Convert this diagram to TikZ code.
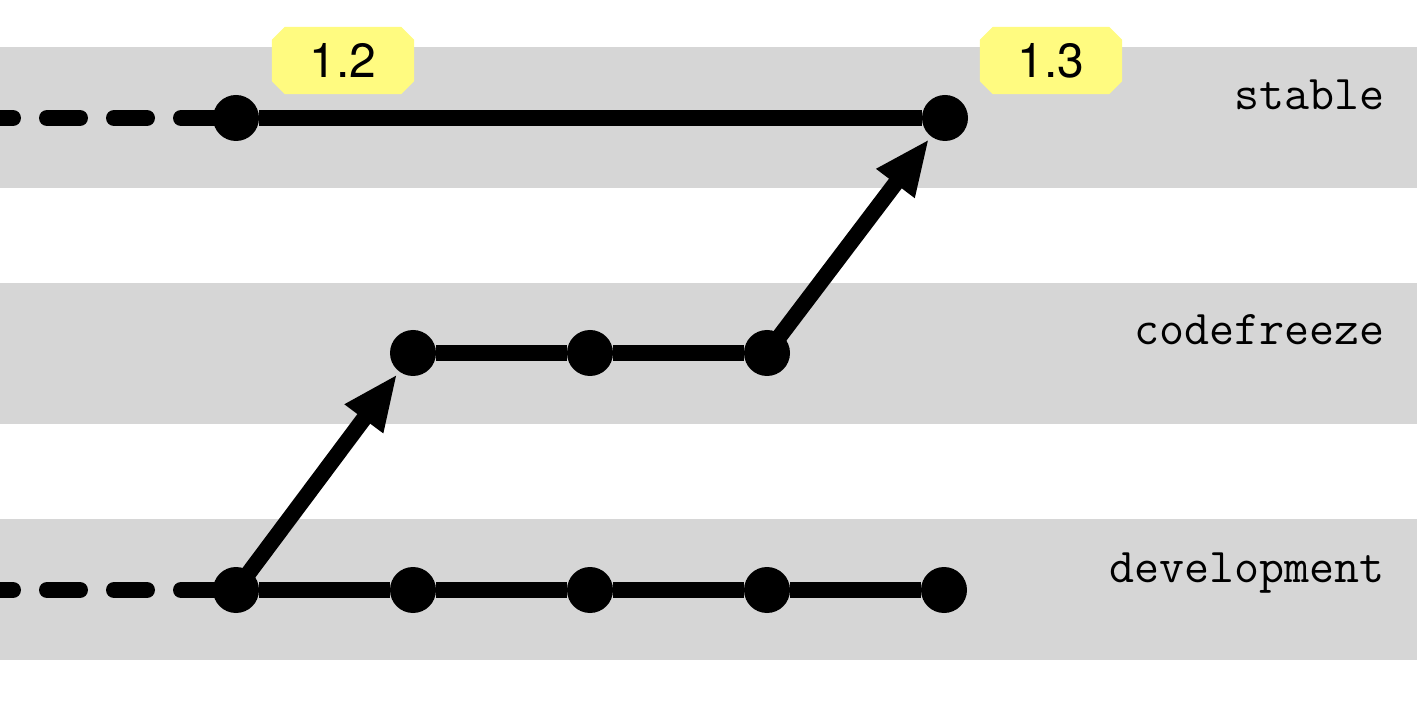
\documentclass[tikz,border=0pt]{standalone}
\usepackage{fontspec}
\newfontfamily\tagfont{TeX Gyre Heros}
\usetikzlibrary{arrows.meta}
\pgfdeclarelayer{bands}
\pgfdeclarelayer{lines}
\pgfsetlayers{bands,lines,main}
\definecolor{bandgray}{RGB}{214,214,214}
\definecolor{tagyellow}{RGB}{255,251,128}
\begin{document}
\begin{tikzpicture}[x=1pt,y=-1pt,
  dot/.style={circle,fill=black,inner sep=0pt,minimum size=46pt},
  branch/.style={line width=16pt},
  dashline/.style={line width=16pt,line cap=round,dash pattern=on 33pt off 34pt,dash phase=45pt},
  merge/.style={line width=16pt,-{Triangle[length=56pt,width=44pt]},shorten >=3pt},
  tagbox/.style={inner sep=0pt,minimum width=142pt,minimum height=67pt,font=\tagfont\fontsize{48}{56}\selectfont},
  lane/.style={anchor=base east,inner sep=0pt,font=\ttfamily\fontsize{48.6}{56}\selectfont}]
\useasboundingbox (0,0) rectangle (1417,708);
\begin{pgfonlayer}{bands}
\fill[bandgray] (0,47) rectangle (1417,188);
\fill[bandgray] (0,283) rectangle (1417,424);
\fill[bandgray] (0,519) rectangle (1417,660);
\end{pgfonlayer}
% dots
\node[dot] (s0) at (236,118) {};
\node[dot] (s1) at (945,118) {};
\node[dot] (c0) at (413,353) {};
\node[dot] (c1) at (590,353) {};
\node[dot] (c2) at (767,353) {};
\node[dot] (d0) at (236,590) {};
\node[dot] (d1) at (413,590) {};
\node[dot] (d2) at (590,590) {};
\node[dot] (d3) at (767,590) {};
\node[dot] (d4) at (944,590) {};
\coordinate (sL) at (0,118);
\coordinate (dL) at (0,590);
% tags
\node[tagbox] (t12) at (343,60.5) {1.2};
\node[tagbox] (t13) at (1051,60.5) {1.3};
% lane labels
\node[lane] (lstable) at (1385,110) {stable};
\node[lane] (lcf) at (1385,345) {codefreeze};
\node[lane] (ldev) at (1385,582) {development};
\begin{pgfonlayer}{lines}
\foreach \t in {t12,t13}{
  \fill[tagyellow] ([xshift=13pt]\t.north west) -- ([xshift=-13pt]\t.north east)
    -- ([yshift=-13pt]\t.north east) -- ([yshift=13pt]\t.south east)
    -- ([xshift=-13pt]\t.south east) -- ([xshift=13pt]\t.south west)
    -- ([yshift=13pt]\t.south west) -- ([yshift=-13pt]\t.north west) -- cycle;
}
\draw[dashline] (s0.center) -- (sL);
\draw[dashline] (d0.center) -- (dL);
\draw[branch] (s0) -- (s1);
\draw[branch] (c0) -- (c1) -- (c2);
\draw[branch] (d0) -- (d1) -- (d2) -- (d3) -- (d4);
\draw[merge] (d0.center) -- (c0);
\draw[merge] (c2.center) -- (s1);
\end{pgfonlayer}
\end{tikzpicture}
\end{document}
